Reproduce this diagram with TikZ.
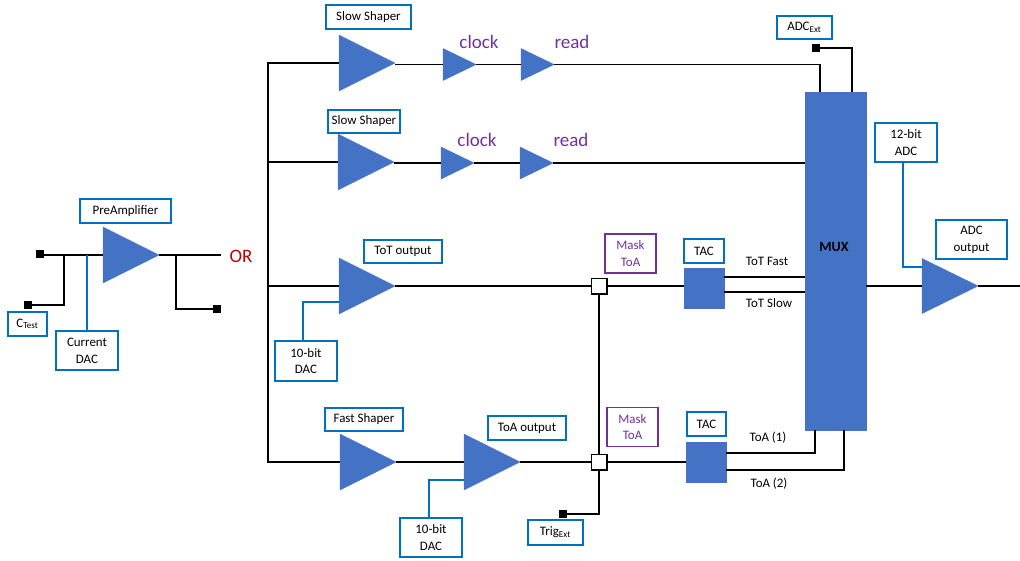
\documentclass[tikz,border=0pt]{standalone}
\usepackage{fontspec}
\setmainfont{Carlito}
\usetikzlibrary{calc, positioning, shapes.geometric}
\definecolor{ampblue}{HTML}{4472C4}
\definecolor{boxblue}{HTML}{0070C0}
\definecolor{maskpurple}{HTML}{7030A0}
\definecolor{orred}{HTML}{C00000}

\begin{document}
\begin{tikzpicture}[auto, x=0.025cm, y=-0.025cm, line width=1pt,
		amp/.style 2 args={isosceles triangle, isosceles triangle stretches, shape border rotate=0, fill=ampblue, draw=ampblue, line width=0.3pt, inner sep=0pt, outer sep=0pt, anchor=lower side, minimum width=#1*0.025cm, minimum height=#2*0.025cm},
		round/.style 2 args={draw=boxblue, fill=white, rectangle, align=center, inner sep=0pt, font=\fontsize{9.2}{12}\selectfont, text=black, minimum width=#1*0.025cm, minimum height=#2*0.025cm},
		mask/.style={round={51}{39}, draw=maskpurple, text=maskpurple},
		word/.style={inner sep=0pt, font=\fontsize{9.2}{12}\selectfont},
		big/.style={inner sep=0pt, text=maskpurple, font=\fontsize{13.5}{14}\selectfont},
		block/.style 2 args={fill=ampblue, draw=ampblue, rectangle, line width=0.3pt, inner sep=0pt, outer sep=0pt, minimum width=#1*0.025cm, minimum height=#2*0.025cm},
		pad/.style={fill=black, rectangle, inner sep=0pt, outer sep=0pt, minimum size=0.22cm},
		gate/.style={fill=white, draw=black, rectangle, inner sep=0pt, outer sep=0pt, minimum size=0.39cm},
		dacwire/.style={draw=boxblue}]
	\useasboundingbox (0, 0) rectangle (1020, 560);

	\node[amp={56}{56}] at (103, 255) (pre) {};
	\node[amp={56}{56}] at (339, 63) (slowA) {};
	\node[amp={32}{33}] at (443, 64.5) (clockA) {};
	\node[amp={32}{33}] at (521, 64.5) (readA) {};
	\node[amp={56}{56}] at (338, 162) (slowB) {};
	\node[amp={32}{33}] at (441, 163) (clockB) {};
	\node[amp={32}{33}] at (520, 163) (readB) {};
	\node[amp={56}{56}] at (339, 286) (tot) {};
	\node[amp={56}{56}] at (340, 462) (fast) {};
	\node[amp={56}{56}] at (464, 462) (toa) {};
	\node[amp={55}{56}] at (922, 286) (adc) {};

	\node[block={61}{338}] at (835.5, 261) (mux) {};
	\node[font=\bfseries\fontsize{10}{12}\selectfont, inner sep=0pt] at (834, 247) (muxname) {MUX};
	\node[block={40}{40}] at (704, 288) (tacA) {};
	\node[block={40}{40}] at (706, 462) (tacB) {};
	\node[gate] at (599, 286) (gateA) {};
	\node[gate] at (599, 462) (gateB) {};

	\node[round={91}{24}] at (125.5, 211) (preName) {PreAmplifier};
	\node[round={39}{24}] at (27.5, 324) (ctest) {C\textsubscript{Test}};
	\node[round={62}{39}] at (87, 350.5) (curDac) {Current\\DAC};
	\node[round={85}{24}] at (368.5, 17) (slowNameA) {Slow Shaper};
	\node[round={72}{23}] at (364, 121.5) (slowNameB) {Slow Shaper};
	\node[round={78}{23}] at (403, 251.5) (totName) {ToT output};
	\node[round={62}{40}] at (306, 361) (dacA) {10-bit\\DAC};
	\node[round={78}{23}] at (364, 419.5) (fastName) {Fast Shaper};
	\node[round={78}{24}] at (527, 428) (toaName) {ToA output};
	\node[round={62}{39}] at (431, 537.5) (dacB) {10-bit\\DAC};
	\node[round={55}{25}] at (555.5, 532.5) (trig) {Trig\textsubscript{Ext}};
	\node[mask] at (630.5, 253.5) (maskA) {Mask\\ToA};
	\node[mask] at (632.5, 427) (maskB) {Mask\\ToA};
	\node[round={40}{24}] at (704, 251) (tacNameA) {TAC};
	\node[round={39}{24}] at (706.5, 424) (tacNameB) {TAC};
	\node[round={55}{23}] at (804.5, 27.5) (adcExt) {ADC\textsubscript{Ext}};
	\node[round={62}{39}] at (906, 142.5) (adcBits) {12-bit\\ADC};
	\node[round={71}{39}] at (971.5, 239.5) (adcName) {ADC\\output};

	\node[word] at (767, 261) (fastTxt) {ToT Fast};
	\node[word] at (769, 303) (slowTxt) {ToT Slow};
	\node[word] at (768, 438) (oneTxt) {ToA (1)};
	\node[word] at (769, 484) (twoTxt) {ToA (2)};
	\node[big] at (479, 42) (clockTxtA) {clock};
	\node[big] at (572, 42) (readTxtA) {read};
	\node[big] at (477, 140) (clockTxtB) {clock};
	\node[big] at (571, 140) (readTxtB) {read};
	\node[big, text=orred] at (241, 256) (orTxt) {OR};

	\node[pad] at (40, 254) (padIn) {};
	\node[pad] at (28, 305) (padTest) {};
	\node[pad] at (217, 309) (padOut) {};
	\node[pad] at (816, 48) (padAdc) {};
	\node[pad] at (563, 514) (padTrig) {};

	\coordinate (preEnd) at (221, 255);
	\coordinate (testJoin) at (64, 255);
	\coordinate (outJoin) at (176, 255);
	\coordinate (busTop) at (268, 63);
	\coordinate (busLow) at (268, 462);
	\coordinate (muxIn) at (820, 65);
	\coordinate (adcPin) at (852, 48);
	\coordinate (oneCorner) at (815, 453);
	\coordinate (twoCorner) at (844, 470);
	\coordinate (trigCorner) at (599, 514);
	\coordinate (adcEnd) at (1020, 286);

	\path[-]
	(padIn.center |- pre.lower side)	edge	(pre.lower side)
	(pre.apex)	edge	(preEnd)
	(clockA.lower side -| slowA.apex)	edge	(clockA.lower side)
	(clockA.apex)	edge	(readA.lower side)
	(clockB.lower side -| slowB.apex)	edge	(clockB.lower side)
	(clockB.apex)	edge	(readB.lower side)
	(readB.apex)	edge	(readB.apex -| mux.west)
	(tot.apex)	edge	(gateA)
	(gateA)	edge	(tacA.west |- gateA)
	(gateA)	edge	(gateB)
	(fast.apex)	edge	(toa.lower side)
	(toa.apex)	edge	(gateB)
	(gateB)	edge	(tacB)
	(adc.apex)	edge	(adcEnd)
	(mux.east |- adc.lower side)	edge	(adc.lower side)
	(slowB.lower side -| busTop)	edge	(slowB.lower side)
	(tot.lower side -| busTop)	edge	(tot.lower side);

	\draw (testJoin) |- (padTest);
	\draw (outJoin) |- (padOut);
	\draw (slowA.lower side) -- (busTop) -- (busLow) -- (fast.lower side);
	\draw (readA.apex) -- (muxIn |- readA.apex) -- (muxIn |- mux.north);
	\draw (padAdc) -- (adcPin) -- (adcPin |- mux.north);
	\draw (tacA.east |- 0, 277) -- (mux.west |- 0, 277);
	\draw (tacA.east |- 0, 292) -- (mux.west |- 0, 292);
	\draw (tacB.east |- oneCorner) -- (oneCorner) -- (oneCorner |- mux.south);
	\draw (tacB.east |- twoCorner) -- (twoCorner) -- (twoCorner |- mux.south);
	\draw (gateB) -- (trigCorner) -- (padTrig);

	\draw[dacwire] (curDac.north) -- (curDac.north |- pre.lower side);
	\draw[dacwire] (dacA.north -| 303, 0) |- (tot.lower side |- 0, 302);
	\draw[dacwire] (dacB.north -| 429, 0) |- (toa.lower side |- 0, 480);
	\draw[dacwire] (adcBits.south -| 903, 0) |- (adc.lower side |- 0, 267);
\end{tikzpicture}
\end{document}
